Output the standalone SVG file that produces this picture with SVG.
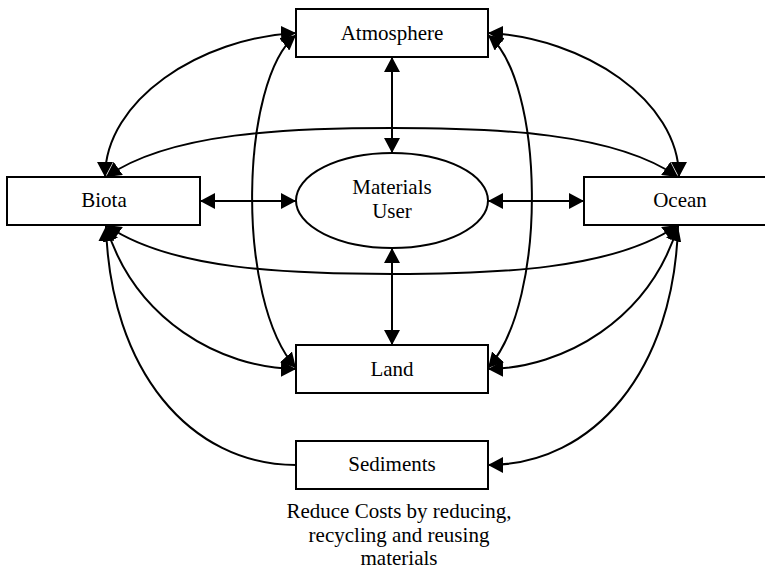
<svg xmlns="http://www.w3.org/2000/svg" width="765" height="569" viewBox="0 0 765 569">
<style>
.box{fill:#fff;stroke:#000;stroke-width:2}
.lbl{font-family:"Liberation Serif","Times New Roman",serif;font-size:21px;fill:#000;text-anchor:middle}
.c{fill:none;stroke:#000;stroke-width:2}
</style>
<defs>
<marker id="ah" viewBox="0 0 15 16" refX="15" refY="8" markerWidth="15" markerHeight="16" markerUnits="userSpaceOnUse" orient="auto-start-reverse">
<path d="M0,0 L15,8 L0,16 z" fill="#000"/>
</marker>
</defs>
<rect width="765" height="569" fill="#fff"/>
<g id="connectors">
<line class="c" x1="392" y1="57" x2="392" y2="153" marker-start="url(#ah)" marker-end="url(#ah)"/>
<line class="c" x1="392" y1="248" x2="392" y2="345" marker-start="url(#ah)" marker-end="url(#ah)"/>
<line class="c" x1="200" y1="201" x2="296" y2="201" marker-start="url(#ah)" marker-end="url(#ah)"/>
<line class="c" x1="488" y1="201" x2="584" y2="201" marker-start="url(#ah)" marker-end="url(#ah)"/>
<path class="c" d="M296,33 C200,38 105,100 105,177" marker-start="url(#ah)" marker-end="url(#ah)"/>
<path class="c" d="M488,33 C584,38 679,100 679,177" marker-start="url(#ah)" marker-end="url(#ah)"/>
<path class="c" d="M106,177 C170,132 290,128 392,128 C494,128 614,132 678,177" marker-start="url(#ah)" marker-end="url(#ah)"/>
<path class="c" d="M106,225 C170,270 290,274 392,274 C494,274 614,270 678,225" marker-start="url(#ah)" marker-end="url(#ah)"/>
<path class="c" d="M296,35 C240,80 235,300 296,368" marker-start="url(#ah)" marker-end="url(#ah)"/>
<path class="c" d="M488,35 C544,80 549,300 488,368" marker-start="url(#ah)" marker-end="url(#ah)"/>
<path class="c" d="M106,226 C135,320 220,368 296,369" marker-start="url(#ah)" marker-end="url(#ah)"/>
<path class="c" d="M678,226 C649,320 564,368 488,369" marker-start="url(#ah)" marker-end="url(#ah)"/>
<path class="c" d="M106,226 C110,370 190,465 296,465" marker-start="url(#ah)"/>
<path class="c" d="M678,226 C674,370 594,465 488,465" marker-end="url(#ah)"/>
</g>
<g id="atmosphere">
<rect class="box" x="296" y="9" width="192" height="48"/>
<text class="lbl" x="392" y="40">Atmosphere</text>
</g>
<g id="biota">
<rect class="box" x="7" y="177" width="193" height="48"/>
<text class="lbl" x="104" y="207">Biota</text>
</g>
<g id="materials-user">
<ellipse class="box" cx="392" cy="200.5" rx="96" ry="47.5"/>
<text class="lbl" x="392" y="194">Materials</text>
<text class="lbl" x="392" y="218">User</text>
</g>
<g id="ocean">
<rect class="box" x="584" y="177" width="193" height="48"/>
<text class="lbl" x="680" y="207">Ocean</text>
</g>
<g id="land">
<rect class="box" x="296" y="345" width="192" height="48"/>
<text class="lbl" x="392" y="376">Land</text>
</g>
<g id="sediments">
<rect class="box" x="296" y="441" width="192" height="48"/>
<text class="lbl" x="392" y="471">Sediments</text>
</g>
<g id="caption">
<text class="lbl" x="399" y="518">Reduce Costs by reducing,</text>
<text class="lbl" x="399" y="541.5">recycling and reusing</text>
<text class="lbl" x="399" y="565">materials</text>
</g>
</svg>
